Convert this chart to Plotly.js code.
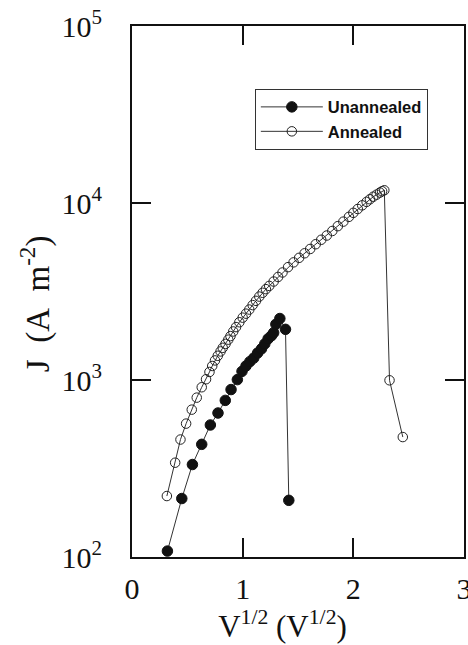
<!DOCTYPE html>
<html>
<head>
<meta charset="utf-8">
<script src="https://cdn.plot.ly/plotly-3.0.1.min.js"></script>
<style>
html,body{margin:0;padding:0;background:#fff;}
#chart{width:468px;height:645px;}
</style>
</head>
<body>
<div id="chart"></div>
<script>
// Unannealed (filled circles)
var unannealedX = [0.32, 0.45, 0.546, 0.63, 0.708, 0.777, 0.843, 0.895, 0.952, 0.994, 1.03, 1.065, 1.10, 1.135, 1.17, 1.20, 1.23, 1.26, 1.28, 1.30, 1.336, 1.387, 1.417];
var unannealedJ = [108, 214, 333, 433, 557, 651, 767, 883, 1005, 1119, 1200, 1270, 1330, 1420, 1500, 1600, 1710, 1780, 1850, 2065, 2225, 1933, 209];

// Annealed (open circles)
var annealedX = [0.315, 0.39, 0.438, 0.489, 0.54, 0.585, 0.63, 0.669, 0.70, 0.725, 0.75, 0.775, 0.80, 0.82, 0.845, 0.87, 0.89, 0.915, 0.94, 0.97, 1.00, 1.03, 1.06, 1.09, 1.12, 1.15, 1.18, 1.21, 1.24, 1.28, 1.32, 1.36, 1.41, 1.46, 1.51, 1.56, 1.61, 1.66, 1.71, 1.76, 1.81, 1.86, 1.91, 1.96, 2.00, 2.04, 2.08, 2.12, 2.15, 2.18, 2.21, 2.24, 2.26, 2.28, 2.327, 2.447];
var annealedJ = [221, 341, 461, 567, 680, 795, 910, 1010, 1110, 1200, 1290, 1370, 1450, 1520, 1600, 1690, 1770, 1880, 1990, 2120, 2250, 2370, 2500, 2650, 2800, 2960, 3110, 3260, 3400, 3600, 3820, 4050, 4340, 4620, 4900, 5200, 5500, 5850, 6200, 6550, 6950, 7400, 7850, 8350, 8800, 9250, 9700, 10150, 10500, 10850, 11150, 11450, 11650, 11800, 996, 476];

var seriesNames = ['Unannealed', 'Annealed'];
var xTickVals = [0, 1, 2, 3];
var xTickText = ['0', '1', '2', '3'];
var yTickVals = [100, 1000, 10000, 100000];
var yTickText = ['10<sup>2</sup>', '10<sup>3</sup>', '10<sup>4</sup>', '10<sup>5</sup>'];

var serif = 'Liberation Serif, Times New Roman, serif';
var ink = '#111111';
var NB = '\u00a0';
var ZW = '\u200b';

var traces = [
  {
    x: unannealedX, y: unannealedJ, name: seriesNames[0],
    type: 'scatter', mode: 'lines+markers',
    line: {color: '#333333', width: 1},
    marker: {symbol: 'circle', size: 10.5, color: '#111111', line: {color: '#111111', width: 1}}
  },
  {
    x: annealedX, y: annealedJ, name: seriesNames[1],
    type: 'scatter', mode: 'lines+markers',
    line: {color: '#333333', width: 1},
    marker: {symbol: 'circle-open', size: 9.5, color: '#222222', line: {width: 1}}
  }
];

var axisCommon = {
  showline: true, linecolor: ink, linewidth: 2, mirror: 'ticks',
  ticks: 'inside', ticklen: 19, tickwidth: 2, tickcolor: ink,
  showgrid: false, zeroline: false,
  ticklabeloverflow: 'allow',
  tickfont: {family: serif, size: 30, color: ink}
};

var layout = {
  width: 468, height: 645,
  paper_bgcolor: '#ffffff', plot_bgcolor: '#ffffff',
  margin: {l: 132, r: 4, t: 26, b: 88},
  showlegend: true,
  legend: {
    x: 0.37, y: 0.882, xanchor: 'left', yanchor: 'top',
    bgcolor: '#ffffff', bordercolor: '#333333', borderwidth: 1,
    font: {family: 'Liberation Sans, Arial, sans-serif', size: 16.5, color: ink, weight: 'bold'},
    itemwidth: 62, tracegroupgap: 0
  },
  xaxis: Object.assign({}, axisCommon, {
    range: [0, 3], tickvals: xTickVals, ticktext: xTickText,
    ticklabelstandoff: 4,
    title: {text: 'V<sup>1/2</sup> (V<sup>1/2</sup>)' + NB + NB + NB + NB + ZW, font: {family: serif, size: 31, color: ink}, standoff: 2}
  }),
  yaxis: Object.assign({}, axisCommon, {
    type: 'log', range: [2, 5], tickvals: yTickVals, ticktext: yTickText,
    ticklabelstandoff: 22,
    title: {text: 'J' + NB + NB + '(A' + NB + NB + 'm<sup>-2</sup>)' + NB + NB + NB + ZW, font: {family: serif, size: 33, color: ink}, standoff: 2}
  })
};

Plotly.newPlot('chart', traces, layout, {displayModeBar: false, staticPlot: true});
</script>
</body>
</html>
